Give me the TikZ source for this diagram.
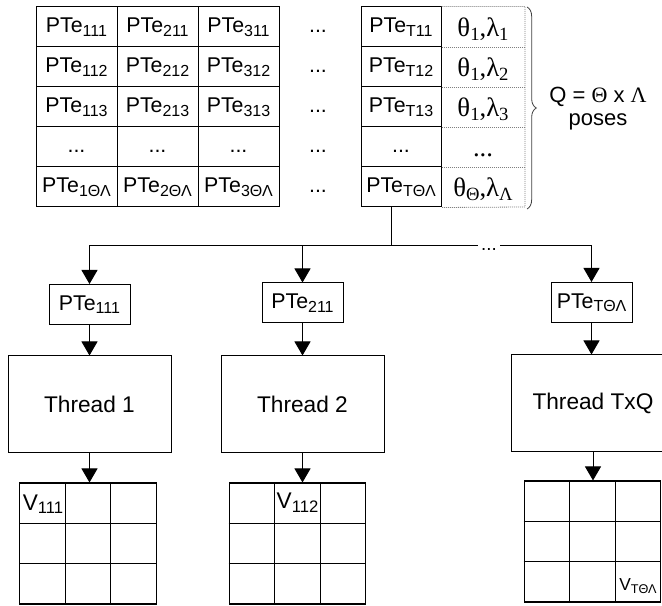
\documentclass[tikz,border=0pt]{standalone}
\usepackage{fontspec}
\setmainfont{Liberation Sans}
\newfontfamily\grk{Liberation Serif}
\usetikzlibrary{arrows.meta,decorations.pathreplacing,calc}
\newcommand\sbs[1]{\raisebox{-0.3ex}{\fontsize{12}{13}\selectfont #1}}
\newcommand\sbg[1]{\raisebox{-0.3ex}{\fontsize{14}{15}\selectfont #1}}
\newcommand\sbv[1]{\raisebox{-0.3ex}{\fontsize{12.5}{14}\selectfont #1}}
\newcommand\sbw[1]{\raisebox{-0.3ex}{\fontsize{9.5}{11}\selectfont #1}}
\tikzset{
  cell/.style={draw, line width=0.75pt, minimum width=60.75pt, minimum height=30pt, inner sep=0pt,
    text height=11.5pt, text depth=3pt, font=\fontsize{16}{18}\selectfont},
  plain/.style={inner sep=0pt, text height=11.5pt, text depth=3pt, font=\fontsize{16}{18}\selectfont},
  gcell/.style={inner sep=0pt, text height=14pt, text depth=0pt, font=\grk\fontsize{20}{22}\selectfont},
  pbox/.style={draw, line width=0.75pt, minimum width=60.75pt, minimum height=30pt, inner sep=0pt,
    font=\fontsize{16}{18}\selectfont},
  thread/.style={draw, line width=0.75pt, minimum width=122.25pt, minimum height=72.75pt, inner sep=0pt,
    font=\fontsize{17}{20}\selectfont},
  grid/.style={draw, line width=0.8pt, minimum width=102.5pt, minimum height=90.75pt, inner sep=0pt},
  dotline/.style={line width=0.6pt, gray, dash pattern=on 0.75pt off 0.75pt},
  arr/.style={-{Triangle[length=10.5pt,width=12pt]}, line width=0.75pt},
  conn/.style={line width=0.75pt},
}
\begin{document}
\begin{tikzpicture}[x=0.75pt,y=-0.75pt]
\useasboundingbox (0,0) rectangle (662,606);
% left table
\foreach \c/\x in {1/76.5, 2/157.5, 3/238.5}{
  \foreach \r/\y/\s in {1/27/11, 2/67/12, 3/107/13, 5/187/ΘΛ}{
    \node[cell] (c\c\r) at (\x,\y) {PTe\sbs{\c\s}};
  }
  \node[cell] (c\c4) at (\x,147) {...};
}
% dots column
\foreach \r/\y in {1/27,2/67,3/107,4/147,5/187}{
  \node[plain] (d\r) at (318,\y) {...};
}
% T column
\node[cell, minimum width=60pt] (pT1) at (401,27) {PTe\sbs{T11}};
\node[cell, minimum width=60pt] (pT2) at (401,67) {PTe\sbs{T12}};
\node[cell, minimum width=60pt] (pT3) at (401,107) {PTe\sbs{T13}};
\node[cell, minimum width=60pt] (pT4) at (401,147) {...};
\node[cell, minimum width=60pt] (pT5) at (401,187) {PTe\sbs{TΘΛ}};
% pose column
\node[gcell] (g1) at (483,27) {θ\sbg{1},λ\sbg{1}};
\node[gcell] (g2) at (483,67) {θ\sbg{1},λ\sbg{2}};
\node[gcell] (g3) at (483,107) {θ\sbg{1},λ\sbg{3}};
\node[gcell] (g4) at (483,147) {...};
\node[gcell] (g5) at (483,187) {θ\sbg{Θ},λ\sbg{Λ}};
\draw[dotline] (pT1.north east) -| (525,207) -- (pT5.south east);
\foreach \r in {1,2,3,4}{\draw[dotline] (pT\r.south east) -- ++(84,0);}
% brace
\draw[decorate, decoration={brace, amplitude=7pt}, line width=0.6pt, black!75] (527,7) -- (527,209);
\node[font=\fontsize{16.5}{19}\selectfont, inner sep=0pt] (qt) at (598,97) {Q = {\grk Θ} x {\grk Λ}};
\node[font=\fontsize{16.5}{19}\selectfont, inner sep=0pt] (poses) at (598,122) {poses};
% distribution
\coordinate (split) at (391,246);
\node[pbox] (b1) at (89.5,304.5) {PTe\sbs{111}};
\node[pbox] (b2) at (302.5,303) {PTe\sbs{211}};
\node[pbox] (b3) at (591.5,302.5) {PTe\sbs{TΘΛ}};
\draw[conn] (pT5.south -| split) -- (split);
\draw[arr] (split) -| (b1.north);
\draw[arr] (split) -| (b2.north);
\draw[arr] (split) -| (b3.north);
\node[fill=white, inner sep=0pt, minimum width=16.5pt, minimum height=7pt, font=\fontsize{14}{16}\selectfont] (gap) at (489,250) {...};
% threads
\node[thread] (t1) at (89.5,404.5) {Thread 1};
\node[thread] (t2) at (302.5,404.5) {Thread 2};
\node[thread] (t3) at (593,403.5) {Thread TxQ};
\draw[arr] (b1) -- (b1 |- t1.north);
\draw[arr] (b2) -- (b2 |- t2.north);
\draw[arr] (b3) -- (b3 |- t3.north);
% grids
\node[grid] (m1) at (88,543.5) {};
\node[grid] (m2) at (297.5,543.5) {};
\node[grid] (m3) at (592.5,541.5) {};
\foreach \m in {m1,m2,m3}{
  \draw[line width=0.8pt] ($(\m.north west)!1/3!(\m.north east)$) -- ($(\m.south west)!1/3!(\m.south east)$);
  \draw[line width=0.8pt] ($(\m.north west)!2/3!(\m.north east)$) -- ($(\m.south west)!2/3!(\m.south east)$);
  \draw[line width=0.8pt] ($(\m.north west)!1/3!(\m.south west)$) -- ($(\m.north east)!1/3!(\m.south east)$);
  \draw[line width=0.8pt] ($(\m.north west)!2/3!(\m.south west)$) -- ($(\m.north east)!2/3!(\m.south east)$);
}
\draw[arr] (t1.south) -- (t1.south |- m1.north);
\draw[arr] (t2.south) -- (t2.south |- m2.north);
\draw[arr] (t3.south) -- (t3.south |- m3.north);
\node[inner sep=0pt, font=\fontsize{17}{19}\selectfont] (v1) at (43,504) {V\sbv{111}};
\node[inner sep=0pt, font=\fontsize{17}{19}\selectfont] (v2) at (297.5,503) {V\sbv{112}};
\node[inner sep=0pt, font=\fontsize{13}{15}\selectfont] (v3) at (638,586) {V\sbw{TΘΛ}};
\end{tikzpicture}
\end{document}
